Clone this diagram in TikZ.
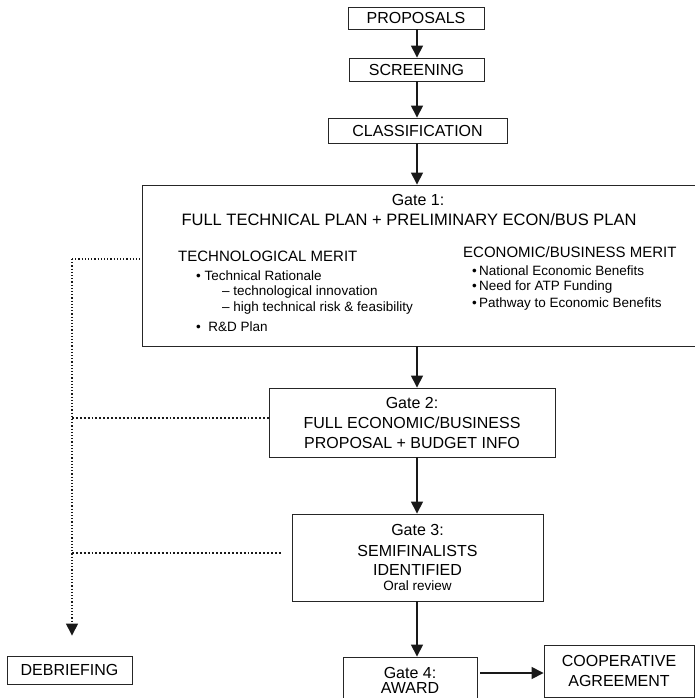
\documentclass[tikz,border=0pt]{standalone}
\usepackage{fontspec}
\setmainfont{Liberation Sans}
\usetikzlibrary{arrows.meta}
\newcommand{\fs}[2]{\fontsize{#1}{#2}\selectfont}
\tikzset{
  box/.style={draw=black!85, line width=0.9pt, inner sep=0pt, align=center, font=\fs{16}{20}},
  flow/.style={line width=1.5pt, draw=black!90, -{Triangle[length=12pt,width=12pt]}},
  dots/.style={line width=1.9pt, dotted, draw=black!90},
  thindots/.style={line width=1.2pt, dotted, draw=black!90},
  txt/.style={inner sep=0pt, anchor=west},
}
\begin{document}
\begin{tikzpicture}[x=1pt,y=-1pt]
\useasboundingbox (0,0) rectangle (695,698);
% main boxes
\node[box, minimum width=136, minimum height=22] (prop) at (416,18) {PROPOSALS};
\node[box, minimum width=135, minimum height=23] (scr) at (416.5,69.5) {SCREENING};
\node[box, minimum width=179, minimum height=25] (cls) at (417.5,130.5) {CLASSIFICATION};
\node[box, minimum width=558, minimum height=161] (g1) at (421,265.5) {};
\node[box, minimum width=286, minimum height=69] (g2) at (412,422.5) {Gate 2:\\FULL ECONOMIC/BUSINESS\\PROPOSAL + BUDGET INFO};
\node[box, minimum width=251, minimum height=87] (g3) at (417.5,557.5) {Gate 3:\\[1pt]SEMIFINALISTS\\[-1pt]IDENTIFIED\\[-5pt]{\fs{13.5}{15}Oral review}};
\node[box, minimum width=134, minimum height=52] (g4) at (410,683) {\raisebox{5pt}{\shortstack{Gate 4:\\[1pt]AWARD}}};
\node[box, minimum width=150, minimum height=52] (coop) at (619,671) {COOPERATIVE\\AGREEMENT};
\node[box, minimum width=125, minimum height=28] (deb) at (69.5,670) {DEBRIEFING};
% Gate 1 contents
\node[inner sep=0pt, font=\fs{16}{20}] (g1t) at (418,200) {Gate 1:};
\node[inner sep=0pt, font=\fs{16.5}{20}] (g1s) at (409,220) {FULL TECHNICAL PLAN + PRELIMINARY ECON/BUS PLAN};
\node[txt, font=\fs{15}{18}] (tm) at (178,256) {TECHNOLOGICAL MERIT};
\node[txt, font=\fs{13.5}{16}] (tm1) at (196,276) {\textbullet\ Technical Rationale};
\node[txt, font=\fs{13.5}{16}] (tm2) at (222,292) {-- technological innovation};
\node[txt, font=\fs{13.5}{16}] (tm3) at (222,308) {-- high technical risk \& feasibility};
\node[txt, font=\fs{13.5}{16}] (tm4) at (196,327) {\textbullet\ \ R\&D Plan};
\node[txt, font=\fs{15}{18}] (em) at (463,252) {ECONOMIC/BUSINESS MERIT};
\node[txt, font=\fs{13.5}{16}] (em1) at (472,271) {\textbullet\,National Economic Benefits};
\node[txt, font=\fs{13.5}{16}] (em2) at (472,287) {\textbullet\,Need for ATP Funding};
\node[txt, font=\fs{13.5}{16}] (em3) at (472,304) {\textbullet\,Pathway to Economic Benefits};
% helper coordinates
\coordinate (ax) at (417,0);
\coordinate (ay) at (0,673);
\coordinate (dtop) at (72,259);
\coordinate (d2) at (72,418);
\coordinate (d3) at (72,553);
% flow arrows
\draw[flow] (prop.south -| ax) -- (scr.north -| ax);
\draw[flow] (scr.south -| ax) -- (cls.north -| ax);
\draw[flow] (cls.south -| ax) -- (g1.north -| ax);
\draw[flow] (g1.south -| ax) -- (g2.north -| ax);
\draw[flow] (g2.south -| ax) -- (g3.north -| ax);
\draw[flow] (g3.south -| ax) -- (g4.north -| ax);
\draw[flow] ([xshift=3pt]g4.east |- ay) -- (coop.west |- ay);
% dotted debriefing paths
\draw[thindots] (dtop) -- (g1.west |- dtop);
\draw[dots] (d2) -- (g2.west |- d2);
\draw[dots] (d3) -- ([xshift=-9pt]g3.west |- d3);
\draw[thindots, line width=1.4pt, -{Triangle[length=12pt,width=12pt]}] (dtop) -- ([yshift=20pt]deb.north -| dtop);
\end{tikzpicture}
\end{document}
